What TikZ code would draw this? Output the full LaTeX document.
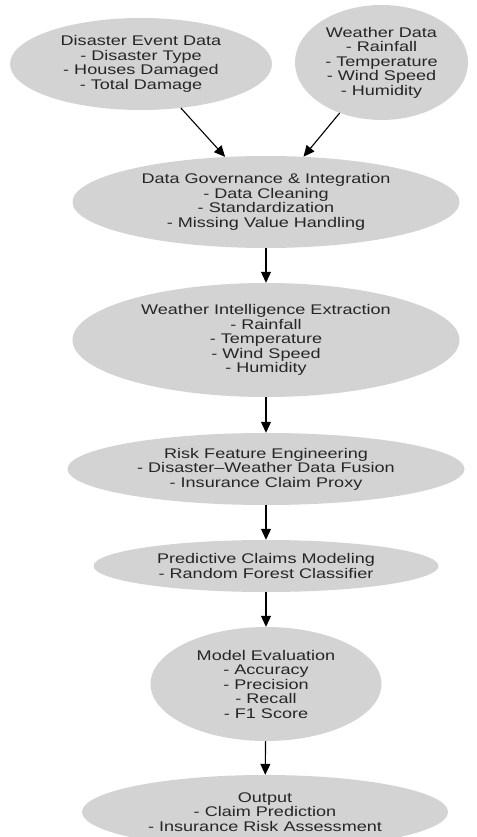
\documentclass[tikz,border=0pt]{standalone}
\usepackage{fontspec}
\setmainfont{Liberation Sans}[FakeStretch=1.29]
\usepackage{xcolor}
\usetikzlibrary{arrows.meta,shapes.geometric}
\definecolor{stagegray}{HTML}{D3D3D3}
\tikzset{
  stage/.style ={ellipse, fill=stagegray, inner sep=0pt, align=center, text=black!85, font=\fontsize{14}{14.5}\selectfont},
  arr/.style   ={-{Triangle[length=11pt, width=10pt]}, line width=1.1pt},
}

\begin{document}
\begin{tikzpicture}[x=1pt, y=-1pt]
  \useasboundingbox (0,0) rectangle (476,837);
  % Two sources on top, then one column of stages
  \node[stage, minimum width=262pt, minimum height=92pt]  (dis)  at (141,64)   {Disaster Event Data\\- Disaster Type\\- Houses Damaged\\- Total Damage};
  \node[stage, minimum width=173pt, minimum height=115pt] (wea)  at (381.5,62.5) {Weather Data\\- Rainfall\\- Temperature\\- Wind Speed\\- Humidity};
  \node[stage, minimum width=387pt, minimum height=92pt]  (gov)  at (266,202)  {Data Governance \& Integration\\- Data Cleaning\\- Standardization\\- Missing Value Handling};
  \node[stage, minimum width=387pt, minimum height=114pt] (wint) at (266,340)  {Weather Intelligence Extraction\\- Rainfall\\- Temperature\\- Wind Speed\\- Humidity};
  \node[stage, minimum width=397pt, minimum height=72pt]  (risk) at (266,469)  {Risk Feature Engineering\\- Disaster--Weather Data Fusion\\- Insurance Claim Proxy};
  \node[stage, minimum width=345pt, minimum height=52pt]  (pred) at (266,566)  {Predictive Claims Modeling\\- Random Forest Classifier};
  \node[stage, minimum width=231pt, minimum height=114pt] (eval) at (266,684)  {Model Evaluation\\- Accuracy\\- Precision\\- Recall\\- F1 Score};
  \node[stage, minimum width=366pt, minimum height=74pt]  (out)  at (265,812)  {Output\\- Claim Prediction\\- Insurance Risk Assessment};

  \draw[arr] (dis)  -- (gov);
  \draw[arr] (wea)  -- (gov);
  \draw[arr] (gov)  -- (wint);
  \draw[arr] (wint) -- (risk);
  \draw[arr] (risk) -- (pred);
  \draw[arr] (pred) -- (eval);
  \draw[arr] (eval) -- (out);
\end{tikzpicture}
\end{document}
